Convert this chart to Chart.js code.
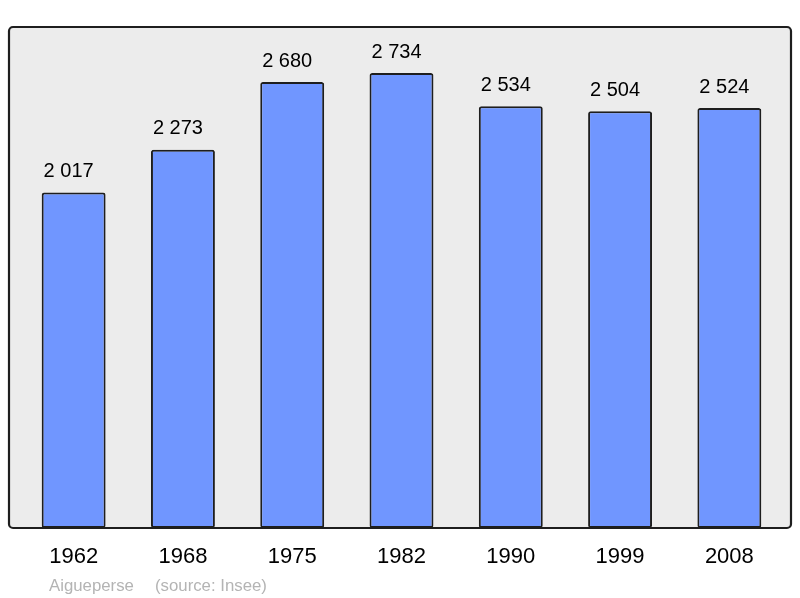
<!DOCTYPE html>
<html>
<head>
<meta charset="utf-8">
<script src="https://cdn.jsdelivr.net/npm/chart.js@4/dist/chart.umd.min.js"></script>
<style>
html,body{margin:0;padding:0;background:#fff;}
#wrap{width:800px;height:598px;}
</style>
</head>
<body>
<div id="wrap"><canvas id="c" width="800" height="598"></canvas></div>
<script>
const years = ["1962", "1968", "1975", "1982", "1990", "1999", "2008"];
const population = [2017, 2273, 2680, 2734, 2534, 2504, 2524];
const commune = "Aigueperse";
const source = "(source: Insee)";
const yMax = 3011;

function fmt(v) {
  return String(v).replace(/\B(?=(\d{3})+(?!\d))/g, " ");
}

function roundRect(ctx, x, y, w, h, r) {
  ctx.beginPath();
  ctx.moveTo(x + r, y);
  ctx.lineTo(x + w - r, y);
  ctx.arcTo(x + w, y, x + w, y + r, r);
  ctx.lineTo(x + w, y + h - r);
  ctx.arcTo(x + w, y + h, x + w - r, y + h, r);
  ctx.lineTo(x + r, y + h);
  ctx.arcTo(x, y + h, x, y + h - r, r);
  ctx.lineTo(x, y + r);
  ctx.arcTo(x, y, x + r, y, r);
  ctx.closePath();
}

const panelPlugin = {
  id: 'panel',
  beforeDraw(chart) {
    const {ctx, chartArea} = chart;
    ctx.save();
    ctx.fillStyle = '#fff';
    ctx.fillRect(0, 0, chart.width, chart.height);
    roundRect(ctx, chartArea.left - 10, chartArea.top, chartArea.right - chartArea.left + 17, chartArea.bottom - chartArea.top, 4);
    ctx.fillStyle = '#ececec';
    ctx.fill();
    ctx.restore();
  },
  afterDatasetsDraw(chart) {
    const {ctx, chartArea} = chart;
    ctx.save();
    roundRect(ctx, chartArea.left - 10, chartArea.top, chartArea.right - chartArea.left + 17, chartArea.bottom - chartArea.top, 4);
    ctx.lineWidth = 2.2;
    ctx.strokeStyle = '#1e1e1e';
    ctx.stroke();
    // value labels
    const meta = chart.getDatasetMeta(0);
    ctx.fillStyle = '#000';
    ctx.font = '20px "Liberation Sans", Arial, sans-serif';
    ctx.textAlign = 'center';
    ctx.textBaseline = 'alphabetic';
    meta.data.forEach((bar, i) => {
      ctx.fillText(fmt(population[i]), bar.x - 5, bar.y - 15.5);
    });
    // source line
    ctx.fillStyle = '#b4b4b4';
    ctx.font = '16.8px "Liberation Sans", Arial, sans-serif';
    ctx.textAlign = 'left';
    ctx.fillText(commune, 49, 591);
    ctx.fillText(source, 155, 591);
    ctx.restore();
  }
};

new Chart(document.getElementById('c'), {
  type: 'bar',
  data: {
    labels: years,
    datasets: [{
      data: population,
      backgroundColor: '#7096ff',
      borderColor: '#1e1e1e',
      borderWidth: 2,
      borderRadius: 2.5,
      borderSkipped: false,
      barPercentage: 0.585,
      categoryPercentage: 1.0
    }]
  },
  options: {
    responsive: false,
    animation: false,
    devicePixelRatio: 1,
    layout: { padding: { left: 19, right: 16, top: 27, bottom: 11.6 } },
    plugins: { legend: { display: false }, tooltip: { enabled: false } },
    scales: {
      x: {
        grid: { display: false, drawTicks: false },
        border: { display: false },
        ticks: {
          color: '#000',
          font: { family: '"Liberation Sans", Arial, sans-serif', size: 22 },
          padding: 16,
          maxRotation: 0
        }
      },
      y: {
        display: false,
        min: 0,
        max: yMax
      }
    }
  },
  plugins: [panelPlugin]
});
</script>
</body>
</html>
